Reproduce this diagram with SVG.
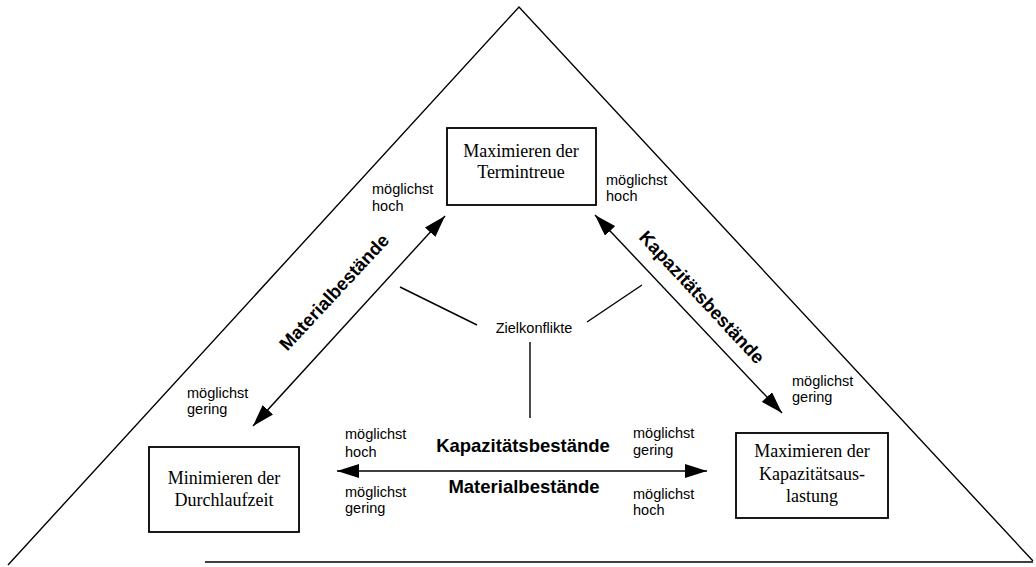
<svg xmlns="http://www.w3.org/2000/svg" width="1036" height="567" viewBox="0 0 1036 567">
<style>
.box{fill:#fff;stroke:#000;stroke-width:1.8}
.bt{font-family:"Liberation Serif","Times New Roman",serif;font-size:18px;text-anchor:middle;fill:#000}
.sm{font-family:"Liberation Sans",Arial,sans-serif;font-size:14.5px;fill:#000}
.bd{font-family:"Liberation Sans",Arial,sans-serif;font-size:18.5px;font-weight:bold;text-anchor:middle;fill:#000}
.ln{stroke:#000;stroke-width:1.4;fill:none}
.ar{stroke:#000;stroke-width:1.4;fill:none;marker-start:url(#ah);marker-end:url(#ah)}
</style>
<defs>
<marker id="ah" viewBox="0 0 22 14" refX="22" refY="7" markerWidth="22" markerHeight="14" markerUnits="userSpaceOnUse" orient="auto-start-reverse">
<path d="M0,0 L22,7 L0,14 z" fill="#000"/>
</marker>
</defs>
<rect width="1036" height="567" fill="#fff"/>
<g id="triangle">
<path class="ln" d="M8,565 L519,7 L1033,561"/>
<line class="ln" x1="205" y1="562" x2="1033" y2="562"/>
</g>
<g id="connectors">
<line class="ar" x1="253" y1="426" x2="445" y2="216"/>
<line class="ar" x1="595" y1="215" x2="782" y2="413"/>
<line class="ar" x1="337" y1="471" x2="707" y2="471"/>
<line class="ln" x1="400" y1="287" x2="477" y2="325"/>
<line class="ln" x1="587" y1="322" x2="642" y2="285"/>
<line class="ln" x1="530" y1="342" x2="530" y2="418"/>
</g>
<g id="node-termintreue">
<rect class="box" x="447" y="128" width="149" height="77"/>
<text class="bt" x="521" y="157">Maximieren der</text>
<text class="bt" x="521" y="178">Termintreue</text>
</g>
<g id="node-durchlaufzeit">
<rect class="box" x="149" y="447" width="150" height="85"/>
<text class="bt" x="224" y="484">Minimieren der</text>
<text class="bt" x="224" y="506">Durchlaufzeit</text>
</g>
<g id="node-kapazitaet">
<rect class="box" x="736" y="433" width="152" height="85"/>
<text class="bt" x="812" y="457">Maximieren der</text>
<text class="bt" x="812" y="480">Kapazitätsaus-</text>
<text class="bt" x="812" y="502">lastung</text>
</g>
<g id="node-zielkonflikte">
<text class="sm" x="534" y="333" text-anchor="middle" font-size="15">Zielkonflikte</text>
</g>
<g id="labels">
<text class="sm" x="372" y="194">möglichst</text>
<text class="sm" x="372" y="211">hoch</text>
<text class="sm" x="606" y="185">möglichst</text>
<text class="sm" x="606" y="201">hoch</text>
<text class="sm" x="187" y="398">möglichst</text>
<text class="sm" x="187" y="414">gering</text>
<text class="sm" x="792" y="386">möglichst</text>
<text class="sm" x="792" y="402">gering</text>
<text class="sm" x="345" y="439">möglichst</text>
<text class="sm" x="345" y="457">hoch</text>
<text class="sm" x="345" y="497">möglichst</text>
<text class="sm" x="345" y="513">gering</text>
<text class="sm" x="633" y="438">möglichst</text>
<text class="sm" x="633" y="455">gering</text>
<text class="sm" x="633" y="499">möglichst</text>
<text class="sm" x="633" y="515">hoch</text>
<text class="bd" x="523" y="452">Kapazitätsbestände</text>
<text class="bd" x="524" y="493">Materialbestände</text>
<text class="bd" transform="translate(334,292) rotate(-47)" y="6.5">Materialbestände</text>
<text class="bd" transform="translate(702,297) rotate(47)" y="6.5">Kapazitätsbestände</text>
</g>
</svg>
